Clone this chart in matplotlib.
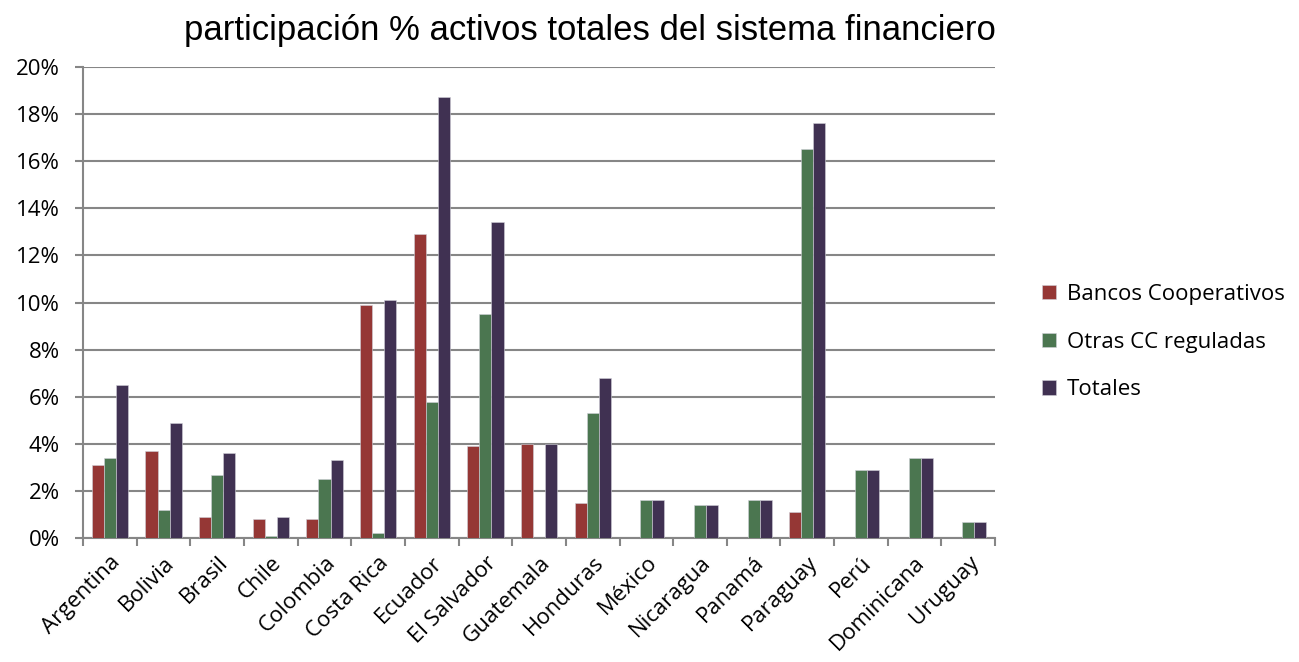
import numpy as np
import matplotlib.pyplot as plt
from matplotlib.ticker import FuncFormatter, FixedLocator

paises = ['Argentina', 'Bolivia', 'Brasil', 'Chile', 'Colombia', 'Costa Rica',
          'Ecuador', 'El Salvador', 'Guatemala', 'Honduras', 'México', 'Nicaragua',
          'Panamá', 'Paraguay', 'Perú', 'Dominicana', 'Uruguay']
bancos = [3.1, 3.7, 0.9, 0.8, 0.8, 9.9, 12.9, 3.9, 4.0, 1.5, 0, 0, 0, 1.1, 0, 0, 0]
otras = [3.4, 1.2, 2.7, 0.1, 2.5, 0.2, 5.8, 9.5, 0, 5.3, 1.6, 1.4, 1.6, 16.5, 2.9, 3.4, 0.7]
totales = [6.5, 4.9, 3.6, 0.9, 3.3, 10.1, 18.7, 13.4, 4.0, 6.8, 1.6, 1.4, 1.6, 17.6, 2.9, 3.4, 0.7]

series = [('Bancos Cooperativos', bancos, '#953735'),
          ('Otras CC reguladas', otras, '#4B7650'),
          ('Totales', totales, '#403152')]

fig = plt.figure(figsize=(12.99, 6.62), dpi=100)
ax = fig.add_axes([0.064, 0.187, 0.702, 0.712])

x = np.arange(len(paises))
w = 0.225
for i, (nombre, vals, col) in enumerate(series):
    ax.bar(x + (i - 1) * w, np.array(vals) / 100, w, color=col, label=nombre,
           edgecolor='#d0d0d8', linewidth=0.4, zorder=3)

ax.set_xlim(-0.5, len(paises) - 0.5)
ax.set_ylim(0, 0.20)
ax.set_yticks(np.arange(0, 0.201, 0.02))
ax.yaxis.set_major_formatter(FuncFormatter(lambda v, p: f'{v*100:.0f}%'))
ax.grid(axis='y', color='#868686', linewidth=1.5, zorder=0)

ax.set_xticks(x)
ax.set_xticklabels(paises, rotation=45, ha='right', rotation_mode='anchor',
                   fontsize=16, family='Open Sans')
ax.tick_params(axis='x', which='major', length=0, pad=10)
ax.xaxis.set_minor_locator(FixedLocator(np.arange(-0.5, len(paises), 1)))
ax.tick_params(axis='x', which='minor', length=6, color='#868686', width=1.5)
ax.tick_params(axis='y', length=6, color='#868686', width=1.5, labelsize=16, pad=11)
for lbl in ax.get_yticklabels():
    lbl.set_family('Open Sans')

for s in ['top', 'right']:
    ax.spines[s].set_visible(False)
for s in ['left', 'bottom']:
    ax.spines[s].set_color('#868686')
    ax.spines[s].set_linewidth(1.5)

fig.text(0.454, 0.94, 'participación % activos totales del sistema financiero',
         fontsize=25, family='Liberation Sans', ha='center', va='baseline')

ax.legend(loc='center left', bbox_to_anchor=(1.03, 0.416), frameon=False,
          prop={'family': 'Open Sans', 'size': 16}, handlelength=0.6,
          handleheight=0.6, handletextpad=0.5, labelspacing=1.2)

fig.savefig('out.png', dpi=100)
